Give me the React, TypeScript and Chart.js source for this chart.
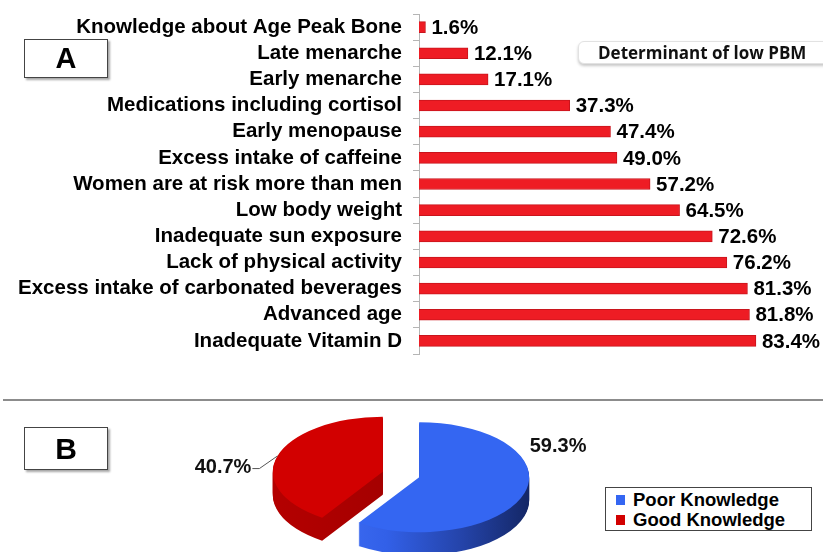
import React, { useEffect, useRef } from 'react';
import { Chart, registerables } from 'chart.js';

Chart.register(...registerables);

// ---------- data ----------
const categories = [
  'Knowledge about Age Peak Bone',
  'Late menarche',
  'Early menarche',
  'Medications including cortisol',
  'Early menopause',
  'Excess intake of caffeine',
  'Women are at risk more than men',
  'Low body weight',
  'Inadequate sun exposure',
  'Lack of physical activity',
  'Excess intake of carbonated beverages',
  'Advanced age',
  'Inadequate Vitamin D',
];
const percentages = [1.6, 12.1, 17.1, 37.3, 47.4, 49.0, 57.2, 64.5, 72.6, 76.2, 81.3, 81.8, 83.4];
const barTitle = 'Determinant of low PBM';

const pieLabels = ['Poor Knowledge', 'Good Knowledge'];
const pieValues = [59.3, 40.7];
const pieColors = ['#3466f2', '#d20000'];

const FONT = "'Liberation Sans', Arial, sans-serif";

// ---------- plugins ----------
const valueLabels = {
  id: 'valueLabels',
  afterDatasetsDraw(chart: any) {
    const ctx = chart.ctx;
    const meta = chart.getDatasetMeta(0);
    const data = chart.data.datasets[0].data;
    ctx.save();
    ctx.font = `bold 20.5px ${FONT}`;
    ctx.fillStyle = '#000';
    ctx.textAlign = 'left';
    ctx.textBaseline = 'middle';
    meta.data.forEach((bar: any, i: number) => {
      ctx.fillText(Number(data[i]).toFixed(1) + '%', bar.x + 6, bar.y + 1);
    });
    ctx.restore();
  },
};

const K = 0.5; // vertical squash of the pie (tilt)
const DEPTH = 23; // thickness of the 3D pie
const EXPLODE = 19; // explode distance (unsquashed px)

function sliceGeometry(chart: any) {
  const meta = chart.getDatasetMeta(0);
  return meta.data.map((a: any) => {
    const mid = (a.startAngle + a.endAngle) / 2;
    return {
      a,
      dx: Math.cos(mid) * EXPLODE,
      dy: Math.sin(mid) * EXPLODE,
      cx: a.x,
      cy: a.y,
      r: a.outerRadius,
    };
  });
}

const pie3d = {
  id: 'pie3d',
  beforeDatasetDraw(chart: any) {
    const ctx = chart.ctx;
    const slices = sliceGeometry(chart);
    const drawSlice = (s: any, fill: any, yShift: number) => {
      ctx.save();
      ctx.translate(s.cx, s.cy + yShift);
      ctx.scale(1, K);
      ctx.translate(-s.cx + s.dx, -s.cy + s.dy);
      const fake = Object.assign(Object.create(Object.getPrototypeOf(s.a)), s.a);
      fake.options = { ...s.a.options, backgroundColor: fill, borderWidth: 0, offset: 0 };
      fake.draw(ctx);
      ctx.restore();
    };
    const sideFills = slices.map((s: any, i: number) => {
      const g = ctx.createLinearGradient(s.cx - s.r, 0, s.cx + s.r, 0);
      if (i === 0) {
        g.addColorStop(0, '#4271f7');
        g.addColorStop(0.35, '#3260e8');
        g.addColorStop(0.7, '#2443a8');
        g.addColorStop(1, '#142766');
      } else {
        g.addColorStop(0, '#b40000');
        g.addColorStop(0.6, '#a20000');
        g.addColorStop(1, '#7c0000');
      }
      return g;
    });
    for (let d = DEPTH; d >= 1; d--) {
      slices.forEach((s: any, i: number) => drawSlice(s, sideFills[i], d));
    }
    slices.forEach((s: any, i: number) => drawSlice(s, pieColors[i], 0));
    return false;
  },
  afterDatasetsDraw(chart: any) {
    const ctx = chart.ctx;
    const slices = sliceGeometry(chart);
    const data = chart.data.datasets[0].data;
    const place = [
      { ang: -24, extra: 42 },
      { ang: 183, extra: 50 },
    ];
    ctx.save();
    ctx.font = `bold 20px ${FONT}`;
    ctx.fillStyle = '#111';
    ctx.textAlign = 'center';
    ctx.textBaseline = 'middle';
    slices.forEach((s: any, i: number) => {
      const p = place[i];
      const t = (p.ang * Math.PI) / 180;
      const ox = s.cx + s.dx;
      const oy = s.cy + s.dy * K;
      const lx = ox + Math.cos(t) * (s.r + p.extra);
      const ly = oy + Math.sin(t) * (s.r + p.extra) * K;
      const txt = Number(data[i]).toFixed(1) + '%';
      ctx.fillText(txt, lx, ly);
      if (i === 1) {
        const w = ctx.measureText(txt).width;
        const e = (196.6 * Math.PI) / 180;
        const ex = ox + Math.cos(e) * s.r;
        const ey = oy + Math.sin(e) * s.r * K;
        ctx.beginPath();
        ctx.strokeStyle = '#555';
        ctx.lineWidth = 1;
        ctx.moveTo(lx + w / 2 + 1, ly + 1);
        ctx.lineTo(lx + w / 2 + 8, ly + 1);
        ctx.lineTo(ex, ey);
        ctx.stroke();
      }
    });
    ctx.restore();
  },
};

// ---------- component ----------
export default function App() {
  const barRef = useRef<HTMLCanvasElement | null>(null);
  const pieRef = useRef<HTMLCanvasElement | null>(null);

  useEffect(() => {
    const bar = new Chart(barRef.current as HTMLCanvasElement, {
      type: 'bar',
      data: {
        labels: categories,
        datasets: [
          {
            data: percentages,
            backgroundColor: '#ee1c24',
            borderColor: '#c9141c',
            borderWidth: 1,
            barThickness: 11,
          },
        ],
      },
      options: {
        indexAxis: 'y',
        animation: false,
        responsive: false,
        maintainAspectRatio: false,
        layout: { padding: { top: 14, bottom: 46, left: 0, right: 0 } },
        plugins: { legend: { display: false }, tooltip: { enabled: false } },
        scales: {
          x: { display: false, min: 0, max: 100 },
          y: {
            afterFit(s: any) {
              s.width = 419;
              s.paddingTop = 0;
              s.paddingBottom = 0;
            },
            border: { display: true, color: '#b5b5b5', width: 1 },
            grid: {
              display: true,
              drawOnChartArea: false,
              drawTicks: true,
              tickLength: 6,
              color: '#b5b5b5',
              offset: true,
            },
            ticks: {
              autoSkip: false,
              color: '#000',
              padding: 11,
              font: { family: FONT, size: 20.5, weight: 'bold' },
            },
          },
        },
      } as any,
      plugins: [valueLabels],
    });

    const pie = new Chart(pieRef.current as HTMLCanvasElement, {
      type: 'pie',
      data: {
        labels: pieLabels,
        datasets: [
          {
            data: pieValues,
            backgroundColor: pieColors,
            borderWidth: 0,
            radius: 110,
            clip: false,
          } as any,
        ],
      },
      options: {
        animation: false,
        responsive: false,
        maintainAspectRatio: false,
        layout: { padding: { left: 0, right: 21, top: 0, bottom: 8 } },
        plugins: { legend: { display: false }, tooltip: { enabled: false } },
      } as any,
      plugins: [pie3d],
    });

    return () => {
      bar.destroy();
      pie.destroy();
    };
  }, []);

  const boxStyle: React.CSSProperties = {
    position: 'absolute',
    left: 24,
    width: 84,
    boxSizing: 'border-box',
    border: '1px solid #444',
    background: '#fff',
    boxShadow: '2px 2px 2px rgba(0,0,0,0.35)',
    display: 'flex',
    alignItems: 'center',
    justifyContent: 'center',
    fontFamily: FONT,
    fontWeight: 'bold',
    fontSize: 29,
    color: '#000',
  };

  return (
    <div
      style={{
        position: 'fixed',
        left: 0,
        top: 0,
        width: 823,
        height: 552,
        background: '#fff',
        overflow: 'hidden',
      }}
    >
      <canvas
        ref={barRef}
        width={823}
        height={400}
        style={{ position: 'absolute', left: 0, top: 0, width: 823, height: 400 }}
      />
      <div style={{ ...boxStyle, top: 39, height: 39 }}>A</div>
      <div
        style={{
          position: 'absolute',
          left: 578,
          top: 41,
          width: 270,
          height: 23,
          boxSizing: 'border-box',
          border: '1px solid #e2e2e2',
          borderRadius: 6,
          boxShadow: '0 2px 3px rgba(0,0,0,0.22)',
          background: '#fff',
          fontFamily: "'Open Sans', sans-serif",
          fontWeight: 700,
          fontSize: 17,
          lineHeight: '21px',
          paddingLeft: 19,
          color: '#111',
          whiteSpace: 'nowrap',
        }}
      >
        {barTitle}
      </div>
      <div
        style={{
          position: 'absolute',
          left: 3,
          top: 399,
          width: 820,
          height: 2,
          background: '#8c8c8c',
        }}
      />
      <canvas
        ref={pieRef}
        width={823}
        height={147}
        style={{ position: 'absolute', left: 0, top: 405, width: 823, height: 147 }}
      />
      <div style={{ ...boxStyle, top: 427, height: 43, fontSize: 30 }}>B</div>
      <div
        style={{
          position: 'absolute',
          left: 605,
          top: 487,
          width: 207,
          height: 44,
          boxSizing: 'border-box',
          border: '1px solid #444',
          background: '#fff',
          padding: '2px 0 0 10px',
          fontFamily: FONT,
          fontWeight: 'bold',
          fontSize: 18.5,
          lineHeight: '20px',
          color: '#000',
        }}
      >
        {pieLabels.map((l, i) => (
          <div key={l} style={{ display: 'flex', alignItems: 'center', whiteSpace: 'nowrap' }}>
            <span
              style={{
                display: 'inline-block',
                width: 9,
                height: 10,
                background: pieColors[i],
                marginRight: 8,
              }}
            />
            {l}
          </div>
        ))}
      </div>
    </div>
  );
}
